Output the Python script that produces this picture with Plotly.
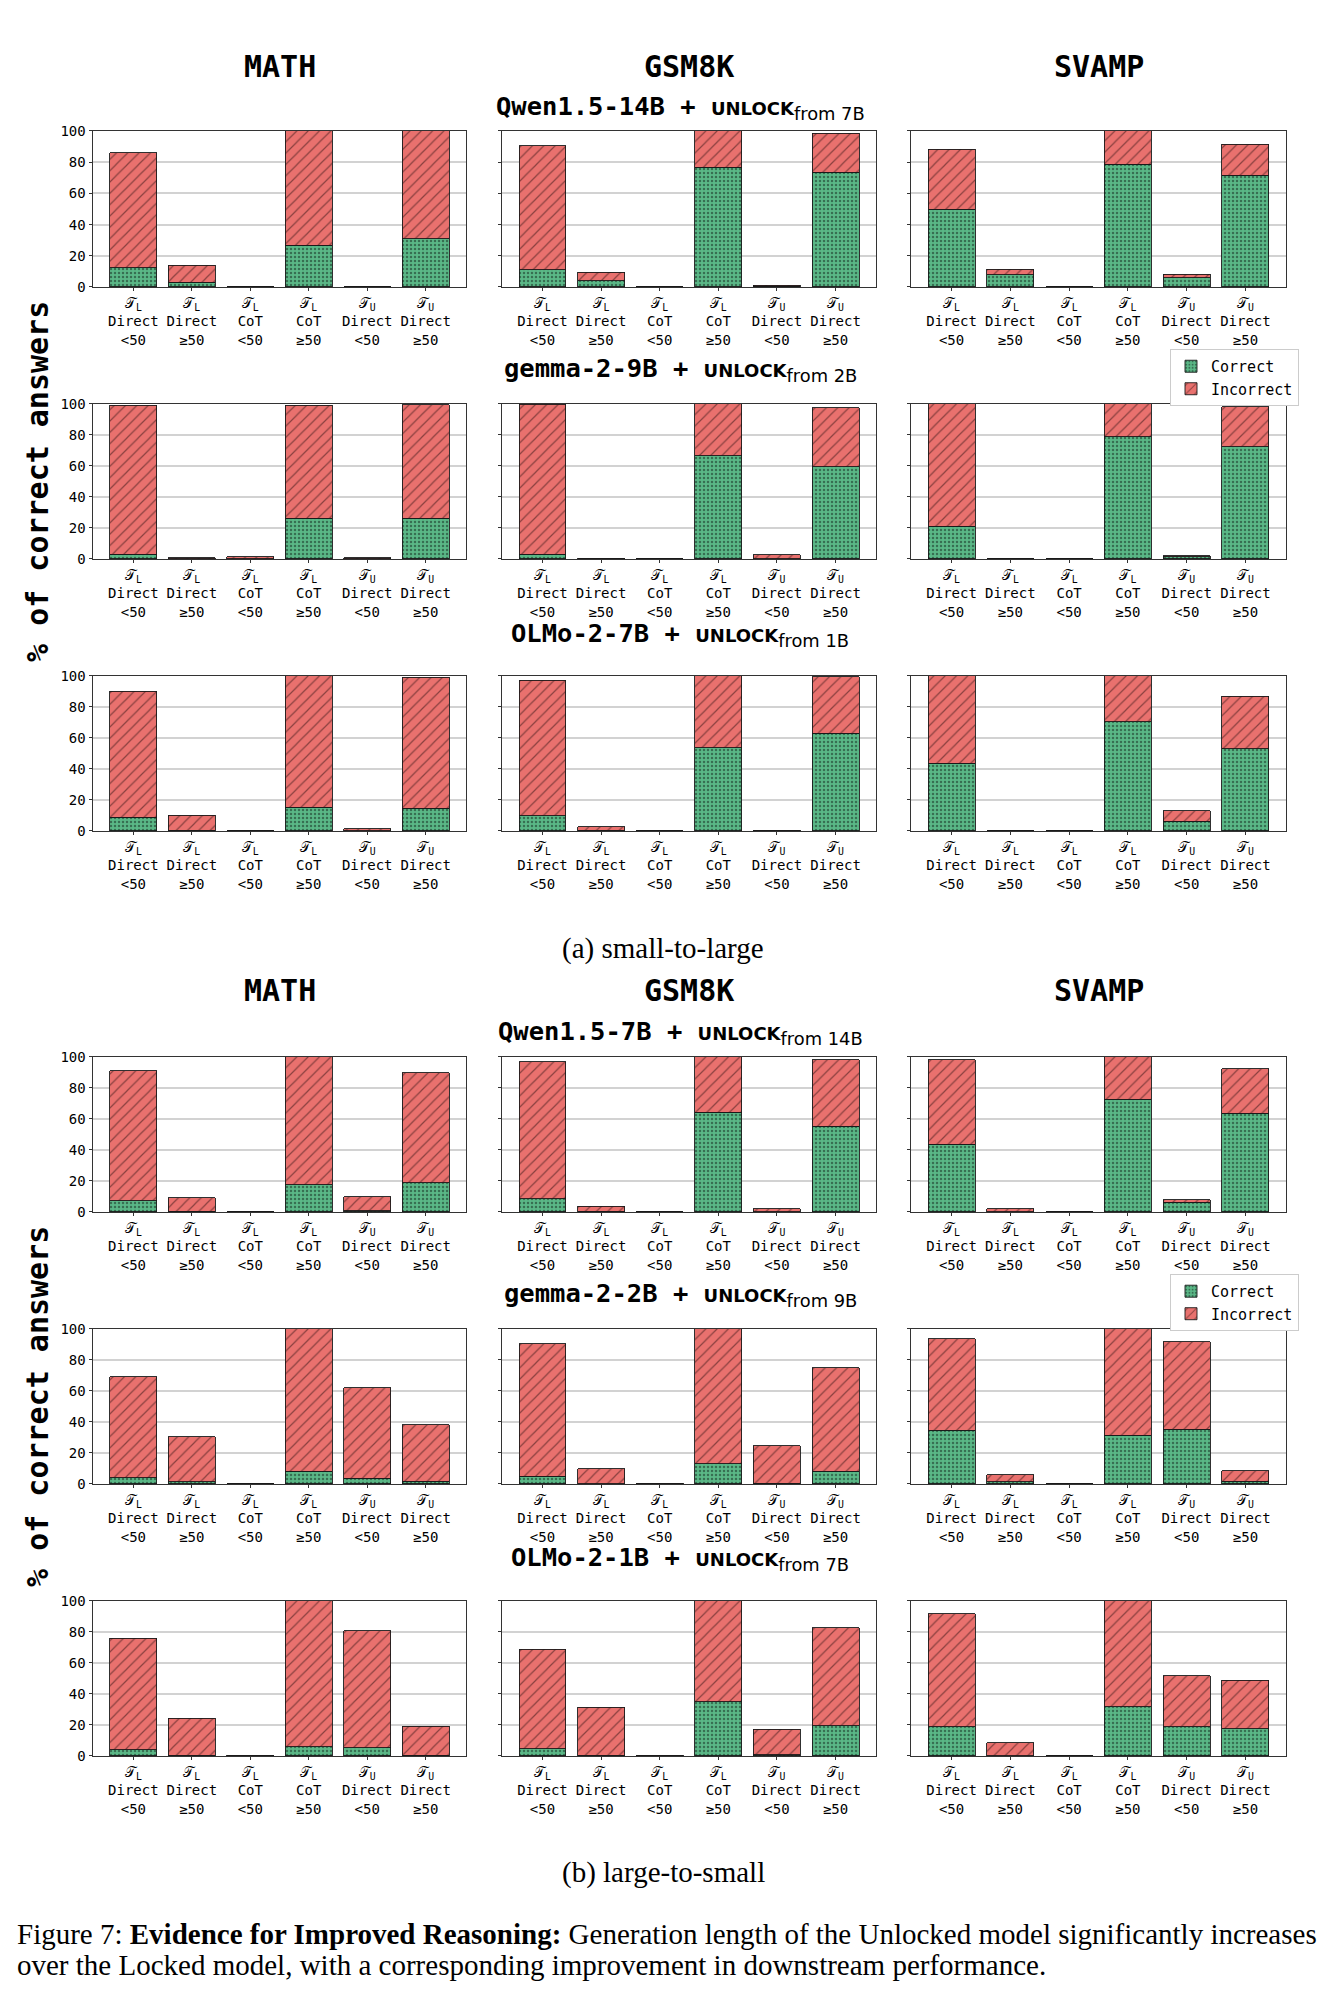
import plotly.graph_objects as go

W, H = 1327, 1993
# empirical vertical mapping of the rendered page: page_y = 0.992 * fig_y + 7
VS, VOFF = 0.992, 7.0

# ---------------- data ----------------
datasets = ["MATH", "GSM8K", "SVAMP"]
tick_model = ["L", "L", "L", "L", "U", "U"]
tick_mode = ["Direct", "Direct", "CoT", "CoT", "Direct", "Direct"]
tick_len = ["&lt;50", "≥50", "&lt;50", "≥50", "&lt;50", "≥50"]

row_models = ["Qwen1.5-14B", "gemma-2-9B", "OLMo-2-7B", "Qwen1.5-7B", "gemma-2-2B", "OLMo-2-1B"]
row_from = ["7B", "2B", "1B", "14B", "9B", "7B"]

# (a) small-to-large : % correct and total % per bar
qwen14b_math_correct = [12.4, 3.0, 0.0, 26.8, 0.0, 31.0]
qwen14b_math_total = [85.9, 13.9, 0.3, 100.0, 0.3, 100.0]
qwen14b_gsm8k_correct = [11.1, 4.0, 0.0, 76.7, 0.4, 73.4]
qwen14b_gsm8k_total = [90.4, 9.4, 0.3, 100.0, 1.1, 98.7]
qwen14b_svamp_correct = [49.7, 7.7, 0.0, 78.6, 6.0, 71.5]
qwen14b_svamp_total = [88.4, 11.3, 0.3, 100.0, 8.1, 91.6]

gemma9b_math_correct = [3.0, 0.3, 0.3, 26.3, 0.2, 26.3]
gemma9b_math_total = [99.1, 0.8, 1.5, 99.1, 0.8, 99.6]
gemma9b_gsm8k_correct = [3.2, 0.2, 0.0, 66.6, 0.3, 59.5]
gemma9b_gsm8k_total = [99.8, 0.5, 0.2, 100.0, 2.8, 97.6]
gemma9b_svamp_correct = [21.0, 0.0, 0.0, 79.0, 1.5, 72.4]
gemma9b_svamp_total = [100.0, 0.2, 0.2, 100.0, 2.1, 98.3]

olmo7b_math_correct = [9.0, 0.6, 0.0, 15.2, 0.3, 14.8]
olmo7b_math_total = [90.1, 10.3, 0.0, 100.0, 1.3, 99.1]
olmo7b_gsm8k_correct = [9.7, 0.5, 0.0, 53.6, 0.3, 63.1]
olmo7b_gsm8k_total = [97.4, 2.6, 0.3, 100.0, 0.5, 99.6]
olmo7b_svamp_correct = [43.8, 0.0, 0.0, 70.6, 6.4, 53.2]
olmo7b_svamp_total = [100.0, 0.2, 0.2, 100.0, 12.9, 86.9]

# (b) large-to-small
qwen7b_math_correct = [7.1, 0.6, 0.0, 17.6, 0.9, 18.9]
qwen7b_math_total = [91.0, 9.2, 0.2, 100.0, 9.9, 89.7]
qwen7b_gsm8k_correct = [8.4, 0.6, 0.0, 64.2, 0.3, 55.4]
qwen7b_gsm8k_total = [96.8, 3.6, 0.2, 100.0, 2.1, 98.1]
qwen7b_svamp_correct = [43.8, 0.3, 0.0, 72.7, 6.2, 63.7]
qwen7b_svamp_total = [98.1, 2.1, 0.2, 100.0, 7.9, 92.3]

gemma2b_math_correct = [4.1, 1.3, 0.0, 8.2, 3.7, 1.9]
gemma2b_math_total = [69.2, 30.4, 0.2, 100.0, 62.1, 38.1]
gemma2b_gsm8k_correct = [5.0, 0.2, 0.0, 12.9, 0.4, 8.2]
gemma2b_gsm8k_total = [90.5, 9.7, 0.3, 100.0, 24.6, 75.0]
gemma2b_svamp_correct = [34.7, 1.5, 0.0, 31.5, 35.3, 1.9]
gemma2b_svamp_total = [93.8, 5.8, 0.2, 100.0, 91.8, 8.4]

olmo1b_math_correct = [4.1, 0.6, 0.0, 5.8, 5.4, 0.4]
olmo1b_math_total = [75.8, 24.2, 0.6, 100.0, 80.9, 19.1]
olmo1b_gsm8k_correct = [4.7, 0.6, 0.0, 35.0, 0.9, 19.5]
olmo1b_gsm8k_total = [68.9, 31.3, 0.3, 100.0, 17.2, 82.8]
olmo1b_svamp_correct = [18.9, 0.0, 0.0, 31.8, 18.9, 17.6]
olmo1b_svamp_total = [91.8, 8.4, 0.2, 100.0, 51.9, 48.7]

panels = [
    [(qwen14b_math_correct, qwen14b_math_total), (qwen14b_gsm8k_correct, qwen14b_gsm8k_total), (qwen14b_svamp_correct, qwen14b_svamp_total)],
    [(gemma9b_math_correct, gemma9b_math_total), (gemma9b_gsm8k_correct, gemma9b_gsm8k_total), (gemma9b_svamp_correct, gemma9b_svamp_total)],
    [(olmo7b_math_correct, olmo7b_math_total), (olmo7b_gsm8k_correct, olmo7b_gsm8k_total), (olmo7b_svamp_correct, olmo7b_svamp_total)],
    [(qwen7b_math_correct, qwen7b_math_total), (qwen7b_gsm8k_correct, qwen7b_gsm8k_total), (qwen7b_svamp_correct, qwen7b_svamp_total)],
    [(gemma2b_math_correct, gemma2b_math_total), (gemma2b_gsm8k_correct, gemma2b_gsm8k_total), (gemma2b_svamp_correct, gemma2b_svamp_total)],
    [(olmo1b_math_correct, olmo1b_math_total), (olmo1b_gsm8k_correct, olmo1b_gsm8k_total), (olmo1b_svamp_correct, olmo1b_svamp_total)],
]

# ---------------- layout geometry (page pixels) ----------------
col_px = [(93, 466), (502, 876), (911, 1286)]
row_px = [(130, 286), (403, 558), (675, 830), (1056, 1211), (1328, 1483), (1600, 1755)]
row_title_y = [107, 369, 634, 1032, 1294, 1558]


def px(x):
    return x / W


def py(y):
    return 1 - ((y - VOFF) / VS) / H


GREEN = "#5ab887"
RED = "#e9716e"
MONO = "DejaVu Sans Mono"
SERIF = "Liberation Serif"

xs = list(range(6))
ticktext = [f"𝒯<sub>{m}</sub><br>{d}<br>{l}" for m, d, l in zip(tick_model, tick_mode, tick_len)]

fig = go.Figure()
layout = {}

for r in range(6):
    for c in range(3):
        i = r * 3 + c + 1
        xa = "x" if i == 1 else f"x{i}"
        ya = "y" if i == 1 else f"y{i}"
        corr, tot = panels[r][c]
        inc = [t - k for k, t in zip(corr, tot)]
        leg = "legend" if r < 3 else "legend2"
        show = (c == 0 and r in (0, 3))
        fig.add_trace(go.Bar(
            x=xs, y=corr, name="Correct", xaxis=xa, yaxis=ya, width=0.8,
            marker=dict(color=GREEN, line=dict(color="#1a1a1a", width=0.9),
                        pattern=dict(shape=".", size=4, solidity=0.3, fgcolor="#14261b",
                                     bgcolor=GREEN, fillmode="overlay")),
            showlegend=show, legend=leg, legendgroup=f"c{leg}", hoverinfo="skip"))
        fig.add_trace(go.Bar(
            x=xs, y=inc, name="Incorrect", xaxis=xa, yaxis=ya, width=0.8,
            marker=dict(color=RED, line=dict(color="#1a1a1a", width=0.9),
                        pattern=dict(shape="/", size=8, solidity=0.15, fgcolor="#2a0f0f",
                                     bgcolor=RED, fillmode="overlay")),
            showlegend=show, legend=leg, legendgroup=f"i{leg}", hoverinfo="skip"))

        x0, x1 = col_px[c]
        y0, y1 = row_px[r]
        kx = "xaxis" if i == 1 else f"xaxis{i}"
        ky = "yaxis" if i == 1 else f"yaxis{i}"
        layout[kx] = dict(
            domain=[px(x0), px(x1)], anchor=ya, range=[-0.69, 5.69],
            tickmode="array", tickvals=xs, ticktext=ticktext,
            tickfont=dict(family=MONO, size=14, color="black"),
            ticks="outside", ticklen=3.5, tickcolor="#333",
            showline=True, linecolor="#333", linewidth=1, mirror=True,
            showgrid=False, zeroline=False, fixedrange=True)
        layout[ky] = dict(
            domain=[py(y1), py(y0)], anchor=xa, range=[0, 100],
            tickvals=[0, 20, 40, 60, 80, 100], showticklabels=(c == 0),
            tickfont=dict(family=MONO, size=14, color="black"),
            ticks="outside", ticklen=3.5, tickcolor="#333",
            showline=True, linecolor="#333", linewidth=1, mirror=True,
            showgrid=True, gridcolor="#d2d2d2", gridwidth=1.5,
            zeroline=False, fixedrange=True)

annotations = []
# dataset headers
for yy in (66, 990):
    for c, name in enumerate(datasets):
        cx = (col_px[c][0] + col_px[c][1]) / 2
        annotations.append(dict(text=f"<b>{name}</b>", x=px(cx), y=py(yy),
                                xref="paper", yref="paper", showarrow=False,
                                xanchor="center", yanchor="middle",
                                font=dict(family=MONO, size=30, color="black")))
# row titles
for r in range(6):
    txt = (f"<b>{row_models[r]} + </b>"
           f"<span style='font-family:DejaVu Sans;font-size:18px'><b>UNLOCK</b></span>"
           f"<sub><span style='font-family:DejaVu Sans'>from {row_from[r]}</span></sub>")
    annotations.append(dict(text=txt, x=px(680), y=py(row_title_y[r]),
                            xref="paper", yref="paper", showarrow=False,
                            xanchor="center", yanchor="middle",
                            font=dict(family=MONO, size=25.5, color="black")))
# y-axis titles
for yy in (481, 1406):
    annotations.append(dict(text="<b>% of correct answers</b>", x=px(38), y=py(yy),
                            xref="paper", yref="paper", showarrow=False, textangle=-90,
                            xanchor="center", yanchor="middle",
                            font=dict(family=MONO, size=30, color="black")))
# sub-captions
annotations.append(dict(text="(a) small-to-large", x=px(663), y=py(948),
                        xref="paper", yref="paper", showarrow=False,
                        xanchor="center", yanchor="middle",
                        font=dict(family=SERIF, size=29, color="black")))
annotations.append(dict(text="(b) large-to-small", x=px(663), y=py(1872),
                        xref="paper", yref="paper", showarrow=False,
                        xanchor="center", yanchor="middle",
                        font=dict(family=SERIF, size=29, color="black")))
# figure caption
annotations.append(dict(text="Figure 7: <b>Evidence for Improved Reasoning:</b> Generation length of the Unlocked model significantly increases",
                        x=px(15), y=py(1933), xref="paper", yref="paper", showarrow=False,
                        xanchor="left", yanchor="middle",
                        font=dict(family=SERIF, size=29, color="black")))
annotations.append(dict(text="over the Locked model, with a corresponding improvement in downstream performance.",
                        x=px(15), y=py(1964), xref="paper", yref="paper", showarrow=False,
                        xanchor="left", yanchor="middle",
                        font=dict(family=SERIF, size=29, color="black")))

legend_style = dict(xanchor="left", yanchor="top", bgcolor="white",
                    bordercolor="#cccccc", borderwidth=1,
                    font=dict(family=MONO, size=15, color="black"),
                    traceorder="normal", itemwidth=30, tracegroupgap=2)

fig.update_layout(
    width=W, height=H, margin=dict(l=0, r=0, t=0, b=0),
    paper_bgcolor="white", plot_bgcolor="white",
    barmode="stack", showlegend=True,
    legend=dict(x=px(1170), y=py(348), **legend_style),
    legend2=dict(x=px(1170), y=py(1273), **legend_style),
    annotations=annotations,
    **layout,
)

fig.write_html("out.html")
